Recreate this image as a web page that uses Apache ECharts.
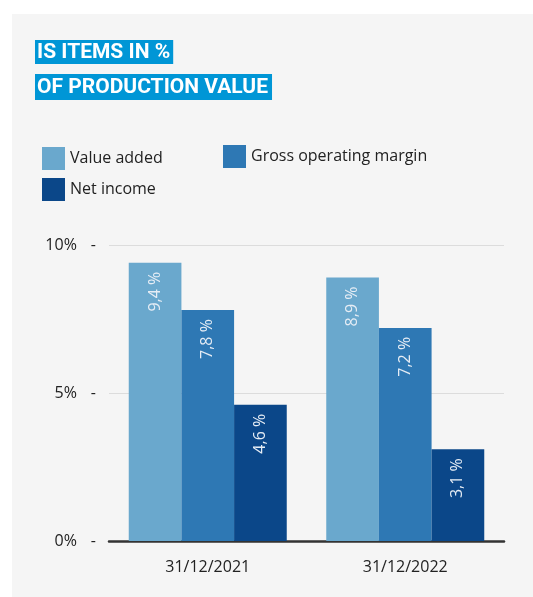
<!DOCTYPE html>
<html>
<head>
<meta charset="utf-8">
<script src="https://cdn.jsdelivr.net/npm/echarts@6/dist/echarts.min.js"></script>
<style>html,body{margin:0;padding:0;background:#fff}#c{width:533px;height:597px}</style>
</head>
<body>
<div id="c"></div>
<script>
const categories = ['31/12/2021', '31/12/2022'];
const seriesNames = ['Value added', 'Gross operating margin', 'Net income'];
const valueAdded = [9.4, 8.9];
const grossOperatingMargin = [7.8, 7.2];
const netIncome = [4.6, 3.1];
const yTicks = [0, 5, 10];
const titleLines = ['IS ITEMS IN %', 'OF PRODUCTION VALUE'];
const colors = ['#6aa8cd', '#2e78b4', '#0b4789'];

const chart = echarts.init(document.getElementById('c'));
const fmt = p => String(p.value).replace('.', ',') + ' %';
const labelCfg = {
  show: true, position: 'insideTop', rotate: 90, align: 'right', verticalAlign: 'middle',
  distance: 9, color: '#e6edf5', fontSize: 16, fontFamily: 'Open Sans', formatter: fmt
};
const legendBase = {
  itemWidth: 23, itemHeight: 23, icon: 'rect', padding: 0,
  textStyle: { fontSize: 16, color: '#222', fontFamily: 'Open Sans' },
  itemGap: 5, selectedMode: false
};
chart.setOption({
  backgroundColor: '#ffffff',
  animation: false,
  graphic: [
    { type: 'rect', left: 12, top: 14, shape: { width: 521, height: 583 }, style: { fill: '#f5f5f5' }, z: -10 },
    { type: 'text', left: 35, top: 40, style: { text: titleLines[0], fill: '#fff', font: 'bold 21px Roboto', backgroundColor: '#0096d6', padding: [2, 3, 1, 2] } },
    { type: 'text', left: 35, top: 74, style: { text: titleLines[1], fill: '#fff', font: 'bold 21px Roboto', backgroundColor: '#0096d6', padding: [3, 4, 2, 2] } }
  ],
  color: colors,
  legend: [
    Object.assign({ left: 42, top: 147, data: [seriesNames[0]] }, legendBase),
    Object.assign({ left: 223, top: 145, data: [seriesNames[1]] }, legendBase),
    Object.assign({ left: 42, top: 178, data: [seriesNames[2]] }, legendBase)
  ],
  grid: { left: 109, right: 29, top: 245, bottom: 56 },
  xAxis: {
    type: 'category', data: categories,
    axisLine: { lineStyle: { color: '#333', width: 2.5 } },
    axisTick: { show: false },
    axisLabel: { fontSize: 16, color: '#222', fontFamily: 'Open Sans', margin: 18 }
  },
  yAxis: {
    type: 'value', min: yTicks[0], max: yTicks[yTicks.length - 1], interval: yTicks[1] - yTicks[0],
    axisLine: { show: false }, axisTick: { show: false },
    splitLine: { lineStyle: { color: '#dcdcdc', width: 1 } },
    axisLabel: {
      margin: 13, fontFamily: 'Open Sans',
      formatter: v => '{v|' + v + '%}{d|-}',
      rich: { v: { fontSize: 16, color: '#222', padding: [0, 14, 0, 0] }, d: { fontSize: 16, color: '#222' } }
    }
  },
  series: [
    { name: seriesNames[0], type: 'bar', data: valueAdded, barGap: '0%', barCategoryGap: '20%', label: labelCfg },
    { name: seriesNames[1], type: 'bar', data: grossOperatingMargin, label: labelCfg },
    { name: seriesNames[2], type: 'bar', data: netIncome, label: labelCfg }
  ]
});
</script>
</body>
</html>
